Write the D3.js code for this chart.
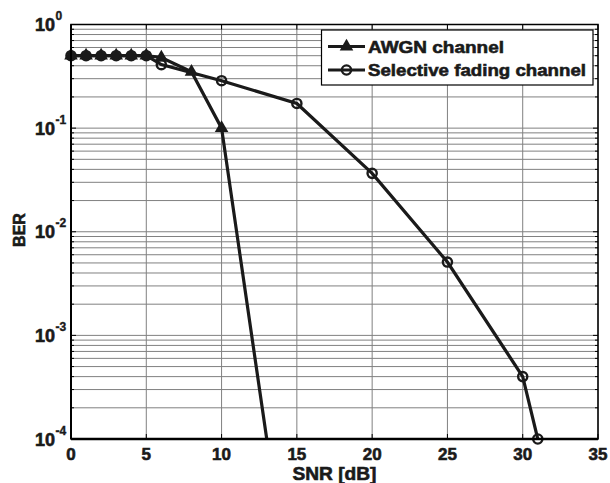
<!DOCTYPE html>
<html><head><meta charset="utf-8">
<script src="https://cdn.jsdelivr.net/npm/d3@7"></script>
<style>body{margin:0;background:#fff}svg{display:block}text{stroke:#1a1a1a;stroke-width:0.6px}</style>
</head><body><svg id="c" width="610" height="483" font-family="'Liberation Sans', Arial, sans-serif" font-weight="700"></svg>
<script>
const awgnSnr = [0,1,2,3,4,5,6,8,10,15];
const awgnBer = [0.5,0.5,0.5,0.5,0.5,0.5,0.48,0.35,0.1,1e-6];
const fadSnr  = [0,1,2,3,4,5,6,10,15,20,25,30,31];
const fadBer  = [0.5,0.5,0.5,0.5,0.5,0.5,0.41,0.287,0.173,0.0366,0.0051,4e-4,1e-4];
const xTicks = [0,5,10,15,20,25,30,35];
const yExps = [0,-1,-2,-3,-4];
const seriesNames = ["AWGN channel","Selective fading channel"];

const svg = d3.select("#c");
const L=71,R=598,T=24.5,B=439;
const x = d3.scaleLinear().domain([0,35]).range([L,R]);
const y = d3.scaleLog().domain([1e-4,1]).range([B,T]);
const ink = "#1a1a1a";

// grid
const g = svg.append("g");
const minor = [];
for (let e=-4;e<0;e++) for (let m=1;m<10;m++) minor.push(m*Math.pow(10,e));
minor.push(1);
g.selectAll(".hg").data(minor).join("line")
 .attr("x1",L).attr("x2",R).attr("y1",d=>y(d)).attr("y2",d=>y(d))
 .attr("stroke","#808080").attr("stroke-width",1);
g.selectAll(".vg").data(xTicks).join("line")
 .attr("y1",T).attr("y2",B).attr("x1",d=>x(d)).attr("x2",d=>x(d))
 .attr("stroke","#808080").attr("stroke-width",1);
// ticks (inward)
const tk = svg.append("g").attr("stroke","#000").attr("stroke-width",1);
xTicks.forEach(d=>{
  tk.append("line").attr("x1",x(d)).attr("x2",x(d)).attr("y1",B).attr("y2",B-5);
  tk.append("line").attr("x1",x(d)).attr("x2",x(d)).attr("y1",T).attr("y2",T+5);
});
minor.forEach(d=>{
  const len = (Math.abs(Math.log10(d)-Math.round(Math.log10(d)))<1e-9)?5:3;
  tk.append("line").attr("x1",L).attr("x2",L+len).attr("y1",y(d)).attr("y2",y(d));
  tk.append("line").attr("x1",R).attr("x2",R-len).attr("y1",y(d)).attr("y2",y(d));
});

svg.append("clipPath").attr("id","clip").append("rect").attr("x",L).attr("y",T).attr("width",R-L).attr("height",B-T);

const line = d3.line().x(d=>x(d[0])).y(d=>y(d[1]));
const awgn = awgnSnr.map((s,i)=>[s,awgnBer[i]]);
const fad = fadSnr.map((s,i)=>[s,fadBer[i]]);
svg.append("path").attr("d",line(awgn)).attr("fill","none").attr("stroke",ink).attr("stroke-width",3.2).attr("clip-path","url(#clip)");
svg.append("path").attr("d",line(fad)).attr("fill","none").attr("stroke",ink).attr("stroke-width",3.2).attr("clip-path","url(#clip)");

const inR = d=>d[1]>=1e-4*0.999 && d[1]<=1;
const tri = d3.symbol().type(d3.symbolTriangle).size(80);
svg.selectAll(".tri").data(awgn.filter(inR)).join("path")
 .attr("d",tri).attr("transform",d=>`translate(${x(d[0])},${y(d[1])})`).attr("fill",ink);
svg.selectAll(".cir").data(fad.filter(inR)).join("circle")
 .attr("cx",d=>x(d[0])).attr("cy",d=>y(d[1])).attr("r",4.6)
 .attr("fill","none").attr("stroke",ink).attr("stroke-width",2.4);

// axes box
svg.append("rect").attr("x",L).attr("y",T).attr("width",R-L).attr("height",B-T)
 .attr("fill","none").attr("stroke","#000").attr("stroke-width",1.5);
svg.append("line").attr("x1",L).attr("x2",R).attr("y1",B).attr("y2",B).attr("stroke","#000").attr("stroke-width",2.5);
svg.append("line").attr("x1",L).attr("x2",L).attr("y1",T).attr("y2",B).attr("stroke","#000").attr("stroke-width",2);

// x tick labels
svg.selectAll(".xl").data(xTicks).join("text")
 .attr("x",d=>x(d)).attr("y",460).attr("text-anchor","middle").attr("font-size",17).attr("fill",ink).text(d=>d);
// y tick labels
yExps.forEach(e=>{
  const yy = y(Math.pow(10,e));
  svg.append("text").attr("x",55).attr("y",yy+6.5).attr("text-anchor","end").attr("font-size",18).attr("fill",ink).text("10");
  svg.append("text").attr("x",55.5).attr("y",yy-4.5).attr("font-size",12).attr("fill",ink).style("stroke-width","0.4px").text(String(e));
});
svg.append("text").attr("x",334.5).attr("y",479.5).attr("text-anchor","middle").attr("font-size",18).attr("fill",ink)
  .attr("textLength",84).attr("lengthAdjust","spacingAndGlyphs").text("SNR [dB]");
svg.append("text").attr("transform","translate(25,230) rotate(-90)").attr("text-anchor","middle").attr("font-size",16).attr("fill",ink).text("BER");

// legend
const lg = svg.append("g");
lg.append("rect").attr("x",321.5).attr("y",30).attr("width",271.5).attr("height",55).attr("fill","#fff").attr("stroke","#000").attr("stroke-width",1.2);
const rows=[46.5,70];
const lw=[136,218];
rows.forEach((ry,i)=>{
  lg.append("line").attr("x1",328).attr("x2",365).attr("y1",ry).attr("y2",ry).attr("stroke",ink).attr("stroke-width",3.2);
  if(i===0) lg.append("path").attr("d",tri).attr("transform",`translate(346.5,${ry})`).attr("fill",ink);
  else lg.append("circle").attr("cx",346.5).attr("cy",ry).attr("r",4.6).attr("fill","none").attr("stroke",ink).attr("stroke-width",2.4);
  lg.append("text").attr("x",368).attr("y",ry+6).attr("font-size",17).attr("fill",ink)
    .attr("textLength",lw[i]).attr("lengthAdjust","spacingAndGlyphs").text(seriesNames[i]);
});
</script></body></html>
